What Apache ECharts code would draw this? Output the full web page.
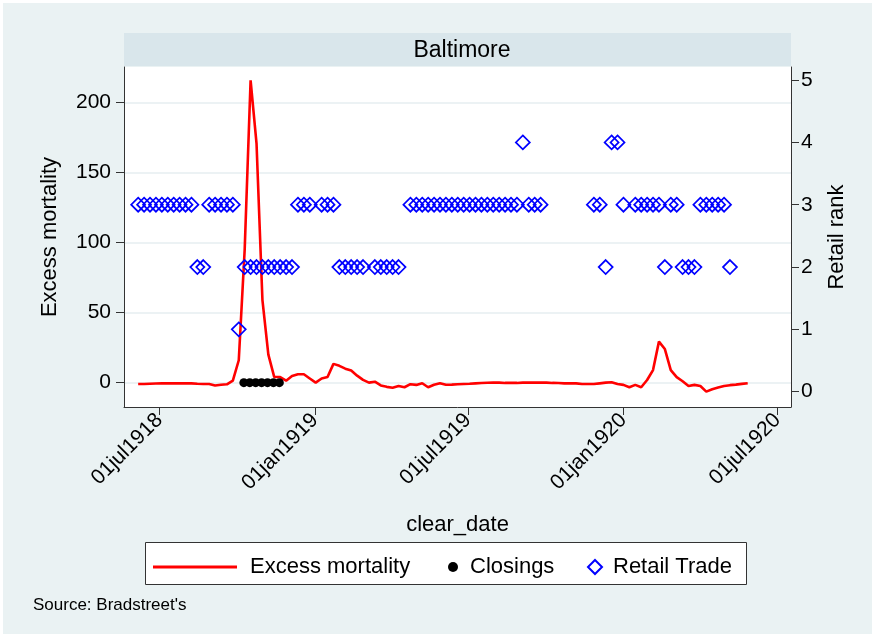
<!DOCTYPE html>
<html><head><meta charset="utf-8">
<script src="https://cdn.jsdelivr.net/npm/echarts@6/dist/echarts.min.js"></script>
<style>html,body{margin:0;padding:0;background:#fff}#c{width:875px;height:637px}</style>
</head><body><div id="c"></div>
<script>
// ---- data ----
const weekStart = '1918-06-06';           // first weekly observation
const mortality = [
  -1,-1,-0.8,-0.6,-0.5,-0.5,-0.5,-0.5,-0.5,-0.5,
  -0.8,-1,-1,-2,-1.5,-1.2,1.5,16,95,216,
  171,59,20,4,4,1.4,4.8,6,6,3,
  0,3,4,13.4,12,10,8.6,5,2,0,
  0.7,-2,-3,-3.6,-2.4,-3.3,-1.1,-1.6,-0.4,-3.3,
  -1.5,-0.4,-1.5,-1.4,-1.2,-1,-0.8,-0.5,-0.3,-0.1,
  0,0,-0.2,-0.2,-0.2,0,0,0,0,0,
  -0.2,-0.3,-0.5,-0.5,-0.5,-1,-1,-1,-0.5,0,
  0.3,-1,-1.6,-3.3,-1.6,-3.3,1.9,9,29.3,24,
  9,3.9,1,-2.4,-1.6,-2.4,-6.4,-4.7,-3.5,-2.4,
  -1.8,-1.4,-0.9,-0.4
];
const retailRank = [
  3,3,3,3,3,3,3,3,3,3,
  2,2,3,3,3,3,3,1,2,2,
  2,2,2,2,2,2,2,3,3,3,
  null,3,3,3,2,2,2,2,2,null,
  2,2,2,2,2,null,3,3,3,3,
  3,3,3,3,3,3,3,3,3,3,
  3,3,3,3,3,4,3,3,3,null,
  null,null,null,null,null,null,null,3,3,2,
  4,4,3,null,3,3,3,3,3,2,
  3,3,2,2,2,3,3,3,3,3,
  2,null,null,null
];
const closingDates = ['1918-10-09','1918-10-16','1918-10-23','1918-10-30','1918-11-06','1918-11-13','1918-11-20'];
const closingValues = [0,0,0,0,0,0,0];
const leftTicks = [0,50,100,150,200];
const rightTicks = [0,1,2,3,4,5];
const xTickDates = ['1918-07-01','1919-01-01','1919-07-01','1920-01-01','1920-07-01'];

// ---- build ----
const DAY = 86400000;
const t0 = Date.parse(weekStart + 'T00:00:00Z');
const weekDates = mortality.map((_, i) => t0 + i * 7 * DAY);
const toMs = s => Date.parse(s + 'T00:00:00Z');
const xMin = toMs('1918-07-01') - 41.75 * DAY;
const xMax = toMs('1920-07-01') + 16.2 * DAY;
const MON = ['jan','feb','mar','apr','may','jun','jul','aug','sep','oct','nov','dec'];
function fmtDate(v){ const d = new Date(v); return String(d.getUTCDate()).padStart(2,'0') + MON[d.getUTCMonth()] + d.getUTCFullYear(); }

const FONT = '"Liberation Sans", Arial, Helvetica, sans-serif';
const AX = '#333';
const chart = echarts.init(document.getElementById('c'), null, {renderer:'canvas'});
chart.setOption({
  animation: false,
  backgroundColor: '#ffffff',
  textStyle: {fontFamily: FONT},
  graphic: [
    {type:'rect', z:-10, silent:true, shape:{x:3,y:3,width:869,height:631}, style:{fill:'#EAF2F3'}},
    {type:'rect', z:-5, silent:true, shape:{x:124,y:33,width:667,height:33}, style:{fill:'#D9E6EB'}},
    {type:'rect', z:-5, silent:true, shape:{x:145.5,y:542.5,width:601,height:42}, style:{fill:'#ffffff', stroke:AX, lineWidth:1}},
    {type:'text', left:33, top:597, style:{text:"Source: Bradstreet's", font:'17px ' + FONT, fill:'#000'}}
  ],
  title: {text:'Baltimore', left:457, top:34, textAlign:'center',
    textStyle:{fontFamily:FONT, fontSize:23, fontWeight:'normal', color:'#000'}},
  grid: {left:124, right:84, top:67, bottom:230, show:true, backgroundColor:'#ffffff', borderWidth:0},
  legend: [
    {data:[{name:'Excess mortality', icon:'rect'}], left:153, top:556, itemWidth:84, itemHeight:3, padding:0,
      itemStyle:{color:'#FF0000'},
      textStyle:{fontFamily:FONT, fontSize:22, color:'#000', padding:[0,0,0,8]}},
    {data:['Closings'], left:448, top:556, itemWidth:10, itemHeight:10, padding:0,
      textStyle:{fontFamily:FONT, fontSize:22, color:'#000', padding:[0,0,0,7]}},
    {data:['Retail Trade'], left:587, top:556, itemWidth:14, itemHeight:14, padding:0,
      textStyle:{fontFamily:FONT, fontSize:22, color:'#000', padding:[0,0,0,6]}}
  ],
  xAxis: {
    type:'value', min:xMin, max:xMax,
    name:'clear_date', nameLocation:'middle', nameGap:107,
    nameTextStyle:{fontFamily:FONT, fontSize:22, color:'#000'},
    axisLine:{show:true, onZero:false, lineStyle:{color:AX, width:1}},
    axisTick:{show:true, length:8, lineStyle:{color:AX}, customValues: xTickDates.map(toMs)},
    axisLabel:{rotate:45, margin:10, fontFamily:FONT, fontSize:21, color:'#000',
      customValues: xTickDates.map(toMs), formatter: v => fmtDate(v)},
    splitLine:{show:false}
  },
  yAxis: [
    {type:'value', position:'left', min:-17.4, max:225.5,
      name:'Excess mortality', nameLocation:'middle', nameRotate:90, nameGap:63,
      nameTextStyle:{fontFamily:FONT, fontSize:22, color:'#000'},
      axisLine:{show:true, onZero:false, lineStyle:{color:AX, width:1}},
      axisTick:{show:true, length:8, lineStyle:{color:AX}, customValues:leftTicks},
      axisLabel:{margin:13, fontFamily:FONT, fontSize:21, color:'#000', customValues:leftTicks},
      splitLine:{show:true, lineStyle:{color:'#E6EEF1', width:1.5}}
    },
    {type:'value', position:'right', min:-0.246, max:5.21,
      name:'Retail rank', nameLocation:'middle', nameRotate:90, nameGap:35,
      nameTextStyle:{fontFamily:FONT, fontSize:22, color:'#000'},
      axisLine:{show:true, onZero:false, lineStyle:{color:AX, width:1}},
      axisTick:{show:true, length:8, lineStyle:{color:AX}, customValues:rightTicks},
      axisLabel:{margin:10, fontFamily:FONT, fontSize:21, color:'#000', customValues:rightTicks},
      splitLine:{show:false}
    }
  ],
  series: [
    {name:'Excess mortality', type:'line', yAxisIndex:0, symbol:'none', showSymbol:false,
      lineStyle:{color:'#FF0000', width:2.6}, itemStyle:{color:'#FF0000'},
      data: weekDates.map((d,i) => [d, mortality[i]]), z:3},
    {name:'Closings', type:'scatter', yAxisIndex:0, symbol:'circle', symbolSize:9,
      itemStyle:{color:'#000', opacity:1}, data: closingDates.map((d,i) => [toMs(d), closingValues[i]]), z:4},
    {name:'Retail Trade', type:'scatter', yAxisIndex:1, symbol:'diamond', symbolSize:14,
      itemStyle:{color:'rgba(0,0,0,0)', borderColor:'#0000FF', borderWidth:1.7, opacity:1},
      data: weekDates.map((d,i) => [d, retailRank[i]]).filter(p => p[1] !== null), z:5}
  ]
});
</script></body></html>
